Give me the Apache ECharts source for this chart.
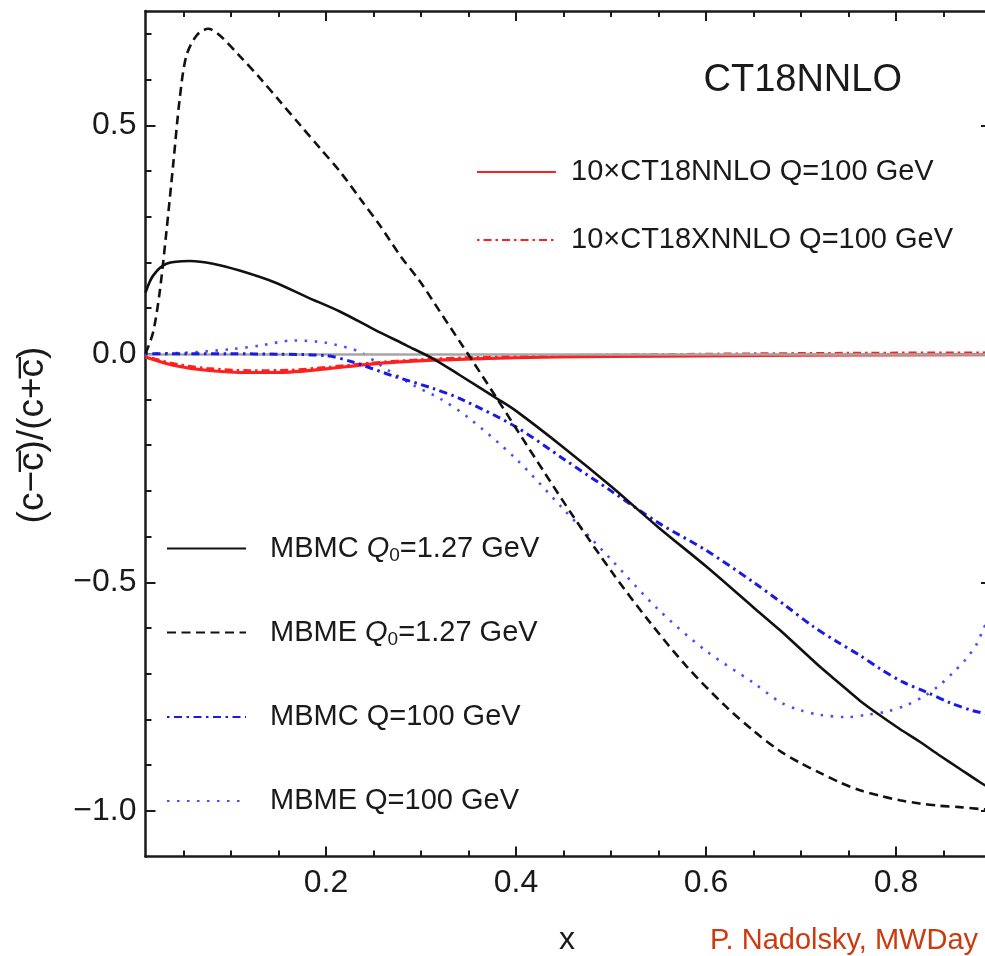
<!DOCTYPE html>
<html>
<head>
<meta charset="utf-8">
<script src="https://cdn.jsdelivr.net/npm/echarts@6/dist/echarts.min.js"></script>
<style>
  html, body { margin: 0; padding: 0; background: #ffffff; overflow: hidden; }
  #chart { width: 995px; height: 956px; }
</style>
</head>
<body>
<div id="chart"></div>
<script>
// Tick positions on the frame
const xMajorTicks = [0.2, 0.4, 0.6, 0.8];
const xMinorTicks = [0.05, 0.1, 0.15, 0.25, 0.3, 0.35, 0.45, 0.5, 0.55, 0.65, 0.7, 0.75, 0.85];
const yMajorTicks = [-1.0, -0.5, 0.0, 0.5];
const yMinorTicks = [-0.9, -0.8, -0.7, -0.6, -0.4, -0.3, -0.2, -0.1, 0.1, 0.2, 0.3, 0.4, 0.6, 0.7];

// Series names
const seriesNames = [
  '10×CT18NNLO Q=100 GeV',
  '10×CT18XNNLO Q=100 GeV',
  'MBMC Q0=1.27 GeV',
  'MBME Q0=1.27 GeV',
  'MBMC Q=100 GeV',
  'MBME Q=100 GeV'
];

// (x, asymmetry) samples for each curve
const ct18nnlo = [[0.01,-0.007],[0.039,-0.025],[0.074,-0.036],[0.12,-0.041],[0.162,-0.040],[0.2,-0.033],[0.25,-0.022],[0.302,-0.015],[0.355,-0.011],[0.443,-0.007],[0.55,-0.005],[0.7,-0.003],[0.9,-0.002]];
const ct18xnnlo = [[0.01,-0.006],[0.04,-0.022],[0.074,-0.032],[0.12,-0.037],[0.162,-0.036],[0.2,-0.030],[0.25,-0.020],[0.3,-0.013],[0.36,-0.008],[0.45,-0.004],[0.6,-0.001],[0.75,0.001],[0.9,0.002]];
const mbmcQ0 = [[0.01,0.134],[0.018,0.171],[0.032,0.197],[0.057,0.203],[0.081,0.197],[0.109,0.182],[0.145,0.157],[0.18,0.124],[0.215,0.092],[0.25,0.054],[0.285,0.018],[0.313,-0.011],[0.341,-0.047],[0.38,-0.098],[0.4,-0.125],[0.45,-0.205],[0.5,-0.29],[0.55,-0.38],[0.6,-0.465],[0.65,-0.555],[0.678,-0.605],[0.699,-0.645],[0.72,-0.685],[0.741,-0.722],[0.762,-0.759],[0.783,-0.791],[0.804,-0.821],[0.825,-0.849],[0.846,-0.879],[0.867,-0.908],[0.888,-0.937],[0.9,-0.952]];
const mbmeQ0 = [[0.01,0.0],[0.018,0.047],[0.025,0.136],[0.032,0.267],[0.039,0.411],[0.046,0.558],[0.053,0.652],[0.064,0.697],[0.076,0.711],[0.088,0.697],[0.109,0.652],[0.131,0.602],[0.152,0.551],[0.173,0.5],[0.194,0.449],[0.215,0.398],[0.236,0.339],[0.257,0.28],[0.278,0.215],[0.299,0.158],[0.32,0.092],[0.341,0.026],[0.355,-0.018],[0.38,-0.098],[0.4,-0.163],[0.43,-0.26],[0.46,-0.355],[0.5,-0.475],[0.54,-0.585],[0.58,-0.685],[0.62,-0.77],[0.65,-0.825],[0.677,-0.868],[0.699,-0.895],[0.72,-0.917],[0.741,-0.938],[0.762,-0.955],[0.783,-0.967],[0.804,-0.977],[0.825,-0.984],[0.846,-0.989],[0.867,-0.992],[0.888,-0.996],[0.9,-0.998]];
const mbmcQ100 = [[0.01,0.0],[0.05,0.0],[0.1,0.0],[0.15,-0.001],[0.2,-0.004],[0.228,-0.018],[0.27,-0.048],[0.313,-0.076],[0.341,-0.098],[0.4,-0.16],[0.45,-0.23],[0.5,-0.30],[0.55,-0.37],[0.6,-0.43],[0.65,-0.50],[0.683,-0.550],[0.713,-0.597],[0.738,-0.63],[0.762,-0.66],[0.783,-0.689],[0.807,-0.718],[0.832,-0.74],[0.857,-0.764],[0.881,-0.781],[0.9,-0.79]];
const mbmeQ100 = [[0.01,0.0],[0.05,0.002],[0.1,0.01],[0.131,0.018],[0.165,0.029],[0.2,0.024],[0.236,0.004],[0.257,-0.025],[0.292,-0.069],[0.32,-0.098],[0.35,-0.14],[0.4,-0.23],[0.45,-0.34],[0.5,-0.45],[0.55,-0.56],[0.6,-0.65],[0.65,-0.72],[0.678,-0.762],[0.699,-0.78],[0.72,-0.79],[0.748,-0.795],[0.769,-0.79],[0.79,-0.783],[0.811,-0.769],[0.829,-0.75],[0.846,-0.725],[0.86,-0.698],[0.874,-0.667],[0.885,-0.635],[0.892,-0.602],[0.9,-0.57]];

const FONT = '"Liberation Sans", Arial, Helvetica, sans-serif';
const INK = '#1a1a1a';
const X_MIN = 0.01, X_MAX = 0.9, Y_MIN = -1.1, Y_MAX = 0.75;

const fmtNum = v => (v < 0 ? '\u2212' : '') + Math.abs(v).toFixed(1);

function frameAxis(kind, position, ticks, length, showLine, showLabels) {
  return {
    type: 'value', position: position,
    min: kind === 'x' ? X_MIN : Y_MIN,
    max: kind === 'x' ? X_MAX : Y_MAX,
    splitLine: { show: false },
    axisLine: { show: showLine, onZero: false, lineStyle: { color: INK, width: 2.5 } },
    axisTick: { show: true, inside: true, length: length, customValues: ticks, lineStyle: { color: INK, width: 2 } },
    axisLabel: { show: showLabels, customValues: ticks, formatter: fmtNum,
      color: INK, fontFamily: FONT, fontSize: 32, margin: kind === 'x' ? 11 : 9 }
  };
}

const chart = echarts.init(document.getElementById('chart'), null, { renderer: 'canvas' });

const lineSeries = (name, data, color, width, type, z) => ({
  name: name, type: 'line', data: data, smooth: 0.3, symbol: 'none', z: z,
  lineStyle: { color: color, width: width, type: type, cap: 'butt' },
  itemStyle: { color: color },
  emphasis: { disabled: true }, silent: true, animation: false
});

const legendText = {
  fontFamily: FONT, fontSize: 29, color: INK, lineHeight: 32,
  rich: {
    q: { fontFamily: FONT, fontSize: 29, fontStyle: 'italic', color: INK, lineHeight: 32 },
    s: { fontFamily: FONT, fontSize: 19, color: INK, lineHeight: 32, padding: [14, 0, 0, 0] }
  }
};
const legendFmt = name => name.replace('Q0', '{q|Q}{s|0}');

function legendItem(name, left, centerY, textPad) {
  return {
    data: [name], left: left, top: centerY - 16, orient: 'vertical',
    itemWidth: 79, itemHeight: 14, selectedMode: false, padding: 0,
    itemStyle: { opacity: 0 },
    formatter: legendFmt,
    textStyle: Object.assign({}, legendText, { padding: [0, 0, 0, textPad] })
  };
}

chart.setOption({
  animation: false,
  backgroundColor: '#ffffff',
  grid: { left: 145.5, right: 4, top: 11, bottom: 99.5, containLabel: false },
  xAxis: [
    frameAxis('x', 'bottom', xMajorTicks, 10, true, true),
    frameAxis('x', 'bottom', xMinorTicks, 6, false, false),
    frameAxis('x', 'top', xMajorTicks, 10, true, false),
    frameAxis('x', 'top', xMinorTicks, 6, false, false)
  ],
  yAxis: [
    frameAxis('y', 'left', yMajorTicks, 10, true, true),
    frameAxis('y', 'left', yMinorTicks, 6, false, false),
    frameAxis('y', 'right', yMajorTicks, 10, false, false),
    frameAxis('y', 'right', yMinorTicks, 6, false, false)
  ],
  legend: [
    legendItem(seriesNames[0], 476, 172, 10),
    legendItem(seriesNames[1], 476, 240, 10),
    legendItem(seriesNames[2], 166, 548, 19),
    legendItem(seriesNames[3], 166, 632, 19),
    legendItem(seriesNames[4], 166, 717, 19),
    legendItem(seriesNames[5], 166, 801, 19)
  ],
  series: [
    {
      name: 'zero', type: 'line', data: [], z: 1, silent: true,
      markLine: {
        silent: true, symbol: ['none', 'none'], label: { show: false }, animation: false,
        lineStyle: { color: '#a6a6a6', width: 2.5, type: 'solid' },
        data: [{ yAxis: 0 }]
      }
    },
    lineSeries(seriesNames[0], ct18nnlo, '#ff1f1f', 3.2, 'solid', 2),
    lineSeries(seriesNames[1], ct18xnnlo, '#ff1f1f', 3, [2.5, 4, 8, 4], 3),
    lineSeries(seriesNames[5], mbmeQ100, '#4d4dff', 2.6, [2.5, 7.5], 4),
    lineSeries(seriesNames[4], mbmcQ100, '#1a1ae6', 3, [2.5, 4.5, 8, 4.5], 5),
    lineSeries(seriesNames[2], mbmcQ0, '#111111', 2.6, 'solid', 6),
    lineSeries(seriesNames[3], mbmeQ0, '#111111', 2.6, [9, 5.5], 7)
  ],
  graphic: [
    {
      type: 'text', x: 902, y: 81, silent: true,
      style: { text: 'CT18NNLO', font: '38px ' + FONT, fill: INK, align: 'right', verticalAlign: 'middle' }
    },
    {
      type: 'text', x: 567, y: 940, silent: true,
      style: { text: 'x', font: '32px ' + FONT, fill: INK, align: 'center', verticalAlign: 'middle' }
    },
    {
      type: 'text', x: 710, y: 941, silent: true,
      style: { text: 'P. Nadolsky, MWDay', font: '29px ' + FONT, fill: '#cc3a0e', align: 'left', verticalAlign: 'middle' }
    },
    {
      type: 'text', x: 33, y: 435, rotation: Math.PI / 2, silent: true,
      style: { text: '(c\u2212c\u0305)/(c+c\u0305)', font: '37px ' + FONT, fill: INK, align: 'center', verticalAlign: 'middle' }
    }
  ]
});
</script>
</body>
</html>
